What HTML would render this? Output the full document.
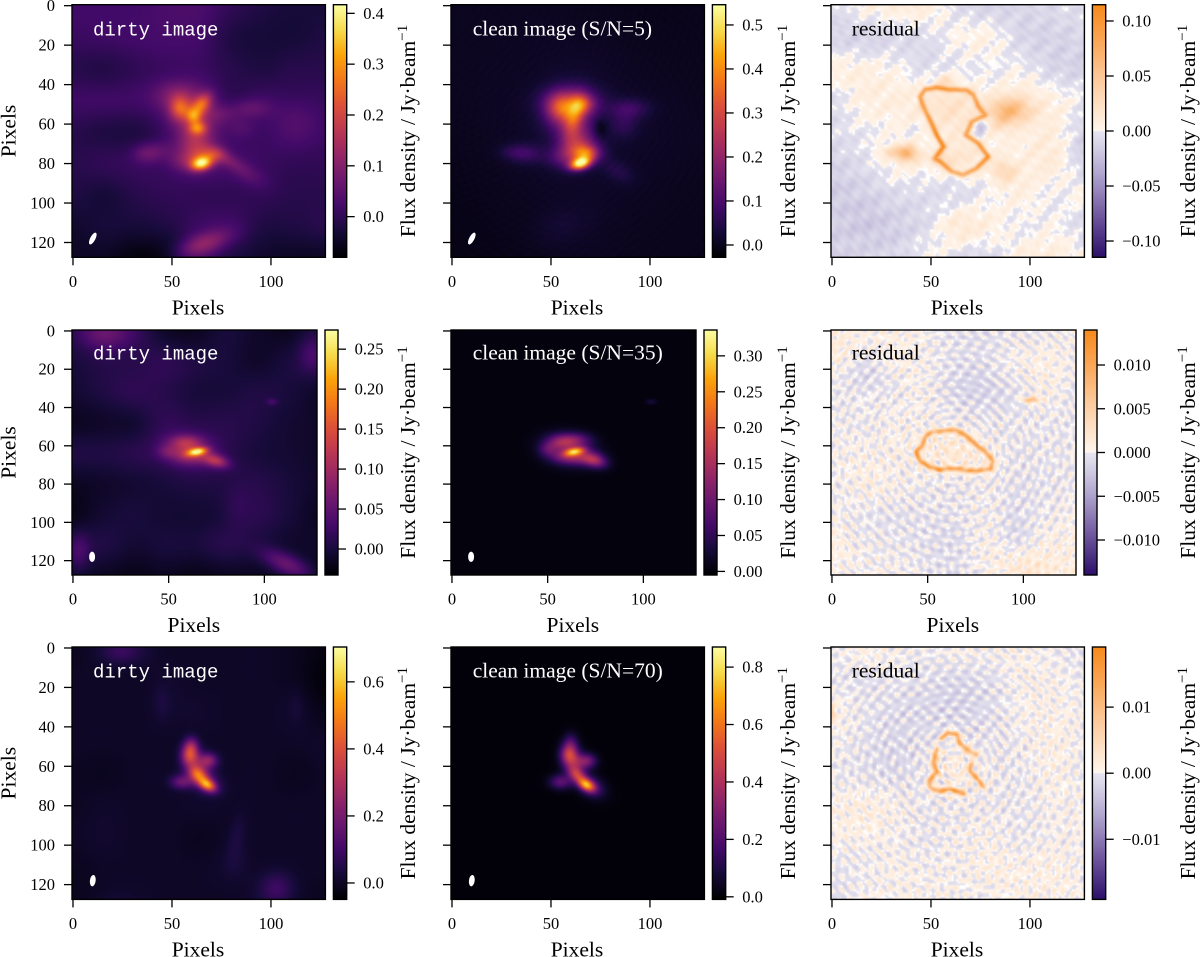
<!DOCTYPE html>
<html lang="en">
<head>
<meta charset="utf-8">
<title>Dirty image, clean image and residual at three signal-to-noise levels</title>
<style>
  html, body { margin: 0; padding: 0; background: #fff; }
  #figure { position: relative; width: 1200px; height: 957px; overflow: hidden; background: #fff; }
  #figure canvas { position: absolute; display: block; }
  #overlay { position: absolute; left: 0; top: 0; }
  #overlay text { font-family: "Liberation Serif", serif; fill: #000; }
</style>
</head>
<body>
<div id="figure">
  <svg id="overlay" width="1200" height="957" viewBox="0 0 1200 957"></svg>
</div>
<script>
/* Data notes: backgrounds, sources and rings are hand estimates.
   The *Fringes arrays are NOT traced: they approximate the fine ripple texture with
   concentric sine components whose spacing and strength were judged by eye, so
   individual ripples and white speckles do not correspond to the reference. */

/* ---------- axis tick values ---------- */
const xTickValues = [0, 50, 100];
const yTickValues = [0, 20, 40, 60, 80, 100, 120];

/* ---------- S/N = 5 dirty image (Jy/beam) ---------- */
const dirtyS5Domain = [-0.08, 0.417];
const dirtyS5Ticks = [0.0, 0.1, 0.2, 0.3, 0.4];
const dirtyS5Background = [
  0.02, 0.02, 0.02, 0.03, 0.03, 0.0, -0.02, -0.03, -0.03,
  0.01, 0.015, 0.02, 0.025, 0.02, -0.02, -0.03, -0.03, -0.02,
  -0.01, -0.015, 0.0, 0.01, 0.01, -0.01, -0.02, -0.01, -0.01,
  0.015, 0.015, 0.015, 0.02, 0.02, -0.005, 0.01, 0.0, 0.005,
  -0.01, -0.02, -0.02, 0.0, 0.03, 0.01, 0.01, 0.02, 0.01,
  -0.01, 0.0, 0.005, 0.01, 0.03, 0.02, 0.01, 0.0, 0.0,
  -0.02, -0.03, -0.01, 0.0, 0.0, 0.0, 0.0, -0.01, -0.01,
  -0.04, -0.03, -0.03, -0.02, 0.01, 0.01, -0.02, -0.02, -0.01,
  -0.05, -0.05, -0.07, -0.06, 0.0, -0.02, -0.04, -0.05, -0.05
];
const dirtyS5Sources = [
  [65, 80, 3.6, 2.3, -15, 0.31], [63, 62, 3, 2.3, 0, 0.16], [61, 56, 2.6, 2.6, 0, 0.14],
  [65, 50, 4.5, 2.8, -50, 0.17], [54, 52, 3.6, 4.2, 0, 0.15], [52, 45, 8, 5, 0, 0.06],
  [60, 55, 9, 9, 0, 0.085], [62, 70, 6, 7, 0, 0.1], [68, 76, 6, 3.5, 0, 0.09],
  [72, 75, 3.5, 2.5, 0, 0.05], [57, 79, 6, 3.5, 0, 0.06], [37, 75, 5, 3.5, 0, 0.06],
  [45, 73, 6, 3.5, 0, 0.035], [90, 52, 7, 3.5, 0, 0.05], [85, 62, 5, 3.5, 0, 0.03],
  [75, 55, 7, 3.5, 0, 0.04], [113, 57, 8, 8, 0, 0.025], [88, 85, 7, 3.5, 30, 0.04],
  [78, 78, 6, 2.5, 30, 0.05], [66, 121, 10, 4, -20, 0.11]
];

/* ---------- S/N = 5 clean image ---------- */
const cleanS5Domain = [-0.028, 0.546];
const cleanS5Ticks = [0.0, 0.1, 0.2, 0.3, 0.4, 0.5];
const cleanS5Background = [
  0.002, 0.004, 0.002, -0.004, -0.002,
  0.004, 0.006, 0.012, 0.004, 0.0,
  0.0, 0.008, 0.015, 0.01, 0.004,
  -0.006, 0.002, 0.01, 0.004, 0.0,
  -0.008, -0.004, 0.004, 0.0, -0.002
];
const cleanS5Sources = [
  [65, 80, 3.6, 2, -15, 0.46], [68, 75, 4, 2.5, 0, 0.16], [62, 56, 3.2, 7, 15, 0.17],
  [66, 50, 4, 3.2, 0, 0.14], [55, 52, 5, 5, 0, 0.18], [60, 48, 10, 5, 0, 0.1],
  [60, 55, 9, 9, 0, 0.135], [63, 70, 6, 6, 0, 0.17], [68, 74, 6, 4, 0, 0.1],
  [58, 77, 7, 4, 0, 0.1], [37, 75, 6, 3.5, 0, 0.07], [30, 74, 5, 2.5, 0, 0.03],
  [90, 52, 7, 3.5, 0, 0.07], [87, 60, 5, 5, 0, 0.05], [84, 84, 6, 3.5, 30, 0.04],
  [75, 62, 2.5, 3.5, 0, -0.05], [55, 112, 10, 6, -20, 0.018]
];
const cleanS5Fringes = [[-40, -30, 3.4, 0.0025, 0], [66, 66, 4.1, 0.0015, 1]];

/* ---------- S/N = 5 residual ---------- */
const residualS5Domain = [-0.1148, 0.1148];
const residualS5Ticks = [-0.10, -0.05, 0.00, 0.05, 0.10];
const residualS5Background = [
  -0.006, 0.004, 0.008, 0.008, -0.006, -0.012, -0.01, -0.008, -0.004,
  -0.01, -0.012, -0.008, -0.006, 0.002, 0.004, -0.01, -0.012, -0.01,
  0.005, 0.006, 0.002, -0.006, -0.003, -0.002, 0.0, -0.01, -0.012,
  -0.006, 0.006, 0.008, 0.006, 0.006, 0.006, 0.01, 0.006, -0.002,
  -0.006, -0.002, 0.002, 0.002, 0.004, 0.004, 0.006, 0.008, -0.012,
  -0.012, -0.006, 0.004, 0.002, 0.004, 0.004, 0.006, 0.01, -0.012,
  -0.016, -0.014, -0.008, -0.006, -0.006, 0.0, 0.006, -0.002, 0.004,
  -0.014, -0.018, -0.014, -0.006, 0.012, 0.006, -0.002, 0.002, -0.008,
  -0.014, -0.01, -0.01, 0.002, -0.006, -0.008, 0.008, 0.008, 0.004
];
const residualS5Sources = [
  [90, 53, 7, 4.5, 0, 0.055], [86, 59, 4, 4, 0, 0.015], [38, 75, 4, 3, 0, 0.06],
  [30, 74, 5, 2, 0, 0.02], [87, 84, 5, 4, 20, 0.025], [57, 38, 3, 2.5, 0, 0.025],
  [55, 78, 4, 3, 0, 0.02], [60, 53, 10, 9, 0, 0.014], [65, 76, 8, 6, 0, 0.01],
  [75, 62, 2, 3, 0, -0.03], [42, 63, 3, 2, 0, -0.006]
];
const residualS5Rings = [[
  [44.6, 46, 0.085], [47, 42.4, 0.09], [52.8, 41.4, 0.09], [59, 42.4, 0.085], [68, 42.7, 0.08],
  [71.5, 45, 0.075], [74, 51, 0.08], [77.5, 55.4, 0.075], [70.7, 58.8, 0.075], [67.7, 65.5, 0.08],
  [74, 69.8, 0.085], [79, 76.5, 0.1], [73, 82.4, 0.085], [66.5, 85.8, 0.075], [60.6, 84, 0.075],
  [54.7, 79, 0.085], [52, 77.4, 0.075], [56.4, 71.5, 0.1], [53, 65.5, 0.11], [48.8, 56.3, 0.085],
  [45.5, 49.5, 0.08], [44.6, 46, 0.085]
]];
const residualS5Fringes = [
  [-60, 170, 3.4, 0.0016, 0], [-40, -50, 11, 0.003, 1], [190, 160, 7.3, 0.0028, 2.2], [150, -60, 5.3, 0.002, 0.4]
];

/* ---------- S/N = 35 dirty image ---------- */
const dirtyS35Domain = [-0.0325, 0.274];
const dirtyS35Ticks = [0.00, 0.05, 0.10, 0.15, 0.20, 0.25];
const dirtyS35Background = [
  0.01, 0.03, 0.02, -0.01, -0.015, 0.0, -0.01, -0.015, 0.0,
  0.0, 0.01, 0.01, 0.015, 0.005, 0.0, -0.01, 0.0, 0.005,
  -0.005, 0.005, 0.015, 0.01, 0.0, 0.0, 0.005, 0.0, -0.01,
  -0.015, -0.01, -0.005, 0.015, 0.01, 0.01, 0.005, -0.005, -0.01,
  0.005, 0.005, 0.01, 0.01, 0.02, 0.01, 0.0, -0.005, -0.01,
  -0.015, -0.01, -0.005, 0.0, 0.005, 0.005, 0.01, 0.0, -0.01,
  -0.02, -0.005, 0.0, -0.005, -0.005, 0.0, 0.012, 0.0, -0.015,
  0.0, 0.005, -0.005, 0.0, 0.0, 0.01, 0.0, -0.01, -0.01,
  -0.01, -0.015, -0.02, -0.015, -0.02, -0.015, -0.015, -0.015, -0.02
];
const dirtyS35Sources = [
  [65, 63, 3.4, 1.3, -10, 0.18], [60, 65, 6, 3, 0, 0.05], [59, 58, 6, 2.6, 0, 0.06],
  [75, 68, 4.5, 2.2, 15, 0.08], [58, 62, 10, 6, 0, 0.04], [68, 65, 8, 3.5, 20, 0.035],
  [49, 63, 3.5, 2.5, 0, 0.03], [104, 37, 2, 1.2, 0, 0.03], [112, 122, 10, 4, 25, 0.07],
  [85, 92, 5, 8, 0, 0.012], [3, 115, 4, 7, 0, 0.035], [125, 12, 5, 7, 0, 0.03],
  [16, 2, 9, 5, 0, 0.03]
];

/* ---------- S/N = 35 clean image ---------- */
const cleanS35Domain = [-0.005, 0.336];
const cleanS35Ticks = [0.00, 0.05, 0.10, 0.15, 0.20, 0.25, 0.30];
const cleanS35Background = [0.001, 0.001, 0.001, 0.001, 0.001, 0.001, 0.001, 0.001, 0.001];
const cleanS35Sources = [
  [64, 63, 3.6, 1.4, -10, 0.2], [60, 66, 6, 2.5, 0, 0.07], [57, 58, 5.5, 2.8, 0, 0.08],
  [65, 57, 6, 2.8, 0, 0.07], [75, 68, 4.5, 2.5, 15, 0.1], [70, 66, 6, 3, 0, 0.07],
  [50, 62, 3.5, 2.5, 0, 0.05], [60, 62, 9, 5.5, 10, 0.06], [104, 37, 2, 1, 0, 0.03]
];

/* ---------- S/N = 35 residual ---------- */
const residualS35Domain = [-0.014, 0.014];
const residualS35Ticks = [-0.010, -0.005, 0.000, 0.005, 0.010];
const residualS35Background = [
  0.0008, 0.0002, 0.0006, 0.0001, -0.0006, -0.0007, -0.0004, -0.0003, 0.0002,
  0.0005, -0.0008, 0.0005, 0.0002, -0.0005, -0.0006, 0.0002, 0.0006, -0.0001,
  -0.0003, -0.0002, -0.0001, 0.0004, -0.0005, -0.0008, -0.0005, 0.0004, -0.0005,
  0.0, -0.0002, 0.0002, 0.0001, 0.0, -0.0003, -0.0003, -0.0003, -0.0004,
  0.0002, 0.0003, 0.0003, 0.0003, 0.0005, 0.0002, -0.0005, -0.0003, -0.0003,
  -0.0003, 0.0003, -0.0001, -0.0001, -0.0002, 0.0, -0.0004, -0.0005, -0.0002,
  0.0003, -0.0005, -0.0007, -0.0004, 0.0, 0.0003, -0.0004, -0.0002, 0.0002,
  0.0007, 0.0, -0.0002, -0.0005, -0.0005, 0.0003, -0.0006, 0.0005, 0.0007,
  0.0004, 0.0001, 0.0002, -0.0003, -0.0006, 0.0001, 0.0008, 0.0009, 0.0008
];
const residualS35Sources = [
  [104, 36, 3, 1, 0, 0.008], [64, 63, 13, 6, 10, 0.0012], [10, 10, 8, 6, 0, 0.0008],
  [100, 122, 12, 7, 30, 0.0012], [70, 30, 15, 10, 0, -0.0006], [20, 25, 8, 6, 0, -0.0006],
  [65, 100, 12, 12, 0, -0.0005], [95, 100, 6, 15, 0, -0.0005], [25, 85, 10, 8, 0, 0.0005]
];
const residualS35Rings = [[
  [49, 55, 0.009], [52, 53, 0.009], [58, 52, 0.008], [65, 52, 0.01], [70, 54.5, 0.011],
  [75, 59, 0.01], [80, 63, 0.009], [84, 68, 0.01], [83, 72, 0.01], [76, 73, 0.009],
  [71, 73, 0.011], [67, 72, 0.009], [61, 72, 0.01], [56, 72.5, 0.011], [51, 71, 0.011],
  [46, 68, 0.011], [44, 63, 0.011], [47, 60, 0.01], [49, 55, 0.009]
]];
const residualS35Fringes = [
  [64, 63, 3.8, 0.0006, 0], [-40, 150, 4.4, 0.0005, 1.1], [180, 130, 4.9, 0.0005, 2.4],
  [150, -50, 5.5, 0.0005, 0.5], [-30, -40, 6.5, 0.0005, 3]
];
const residualS35Core = [64, 63, 26, 1.3];

/* ---------- S/N = 70 dirty image ---------- */
const dirtyS70Domain = [-0.049, 0.704];
const dirtyS70Ticks = [0.0, 0.2, 0.4, 0.6];
const dirtyS70Background = [
  -0.01, 0.01, 0.02, 0.0, 0.0, 0.0, 0.0, -0.01, -0.03,
  0.0, 0.0, 0.0, 0.01, 0.0, 0.0, 0.0, -0.01, -0.04,
  0.0, 0.0, 0.0, 0.01, 0.01, 0.0, 0.0, 0.005, -0.02,
  0.0, 0.0, 0.0, 0.0, 0.0, 0.0, 0.0, 0.0, 0.005,
  -0.005, -0.01, 0.0, 0.0, 0.0, 0.0, 0.0, -0.01, 0.0,
  -0.005, 0.005, 0.0, 0.0, 0.005, 0.0, 0.0, 0.0, 0.0,
  0.0, 0.01, 0.0, 0.0, -0.01, 0.0, 0.0, 0.0, 0.0,
  -0.01, 0.0, 0.0, 0.0, 0.0, 0.01, 0.0, 0.0, 0.0,
  -0.01, 0.0, 0.005, 0.0, 0.0, 0.0, 0.01, 0.0, -0.01
];
const dirtyS70Sources = [
  [68, 69.5, 3.2, 2, 30, 0.42], [63, 64, 3.5, 2.6, 35, 0.32], [59, 54, 3, 4, 5, 0.36],
  [60, 49, 2.5, 3, 0, 0.12], [65, 58, 4.5, 3.5, 0, 0.15], [69, 57, 3, 2.5, 0, 0.15],
  [55, 68, 4, 2.5, 0, 0.17], [66, 67, 6, 4, 30, 0.16], [24, 2, 7, 4, 0, 0.07],
  [103, 122, 6, 6, 0, 0.09], [83, 95, 3, 8, 10, 0.035], [82, 108, 4, 6, 0, 0.02],
  [45, 28, 3, 6, 0, 0.03], [113, 30, 3, 7, 0, 0.02], [22, 127, 6, 3, 0, 0.015]
];

/* ---------- S/N = 70 clean image ---------- */
const cleanS70Domain = [-0.009, 0.87];
const cleanS70Ticks = [0.0, 0.2, 0.4, 0.6, 0.8];
const cleanS70Background = [0, 0, 0, 0, 0, 0, 0, 0, 0];
const cleanS70Sources = [
  [68, 69.5, 3.2, 2, 30, 0.55], [63, 64, 3.4, 2.4, 35, 0.36], [59, 54, 3, 3.5, 0, 0.28],
  [60, 48, 2.5, 3.5, 0, 0.12], [65, 58, 4.5, 3, 0, 0.22], [69, 57, 3, 2.5, 0, 0.14],
  [55, 68, 4, 2.6, 0, 0.22], [70, 70, 5.5, 3.6, 30, 0.2], [60, 55, 3.5, 5.5, 0, 0.17]
];

/* ---------- S/N = 70 residual ---------- */
const residualS70Domain = [-0.0191, 0.0191];
const residualS70Ticks = [-0.01, 0.00, 0.01];
const residualS70Background = [
  -0.0003, 0.0008, 0.0003, -0.0002, 0.0005, 0.0003, 0.0005, -0.0003, -0.0008,
  -0.0005, -0.0008, -0.0003, -0.0005, -0.0008, -0.0005, 0.0004, 0.0002, -0.0004,
  0.0006, -0.0003, -0.0008, -0.0008, -0.001, -0.0006, 0.0003, 0.0003, 0.0001,
  0.0002, -0.0003, -0.0008, -0.0005, -0.0006, -0.0006, -0.0003, 0.0005, -0.0003,
  -0.0003, -0.0005, -0.0008, -0.0002, 0.0002, -0.0001, -0.0006, 0.0002, -0.0003,
  0.0005, 0.0008, 0.0003, -0.0004, -0.0003, -0.0002, -0.0006, -0.0001, 0.0003,
  0.0004, 0.0002, -0.0002, -0.0004, 0.0002, 0.0003, -0.0006, -0.0002, 0.0002,
  -0.0005, -0.0002, 0.0004, 0.0001, 0.0002, 0.0006, -0.0004, 0.0006, 0.0001,
  -0.0007, 0.0002, 0.0003, 0.0005, 0.0002, -0.0003, 0.0006, 0.0008, 0.0002
];
const residualS70Sources = [
  [0, 33, 1.2, 3, 0, 0.006], [62, 60, 8, 10, 0, 0.0012], [62, 25, 18, 12, 0, -0.0009],
  [30, 50, 14, 14, 0, -0.0007], [95, 112, 12, 8, -30, 0.001], [18, 88, 12, 8, 30, 0.0005],
  [110, 60, 10, 25, 0, 0.0005]
];
const residualS70Rings = [
  [[55.5, 45.9, 0.011], [58.8, 43, 0.015], [63, 43.8, 0.015], [64.7, 48.4, 0.014], [69.8, 52.6, 0.014], [73, 54.3, 0.01]],
  [[70.6, 59.4, 0.013], [69.8, 62.7, 0.011], [73, 66, 0.013], [76.5, 70.3, 0.013]],
  [[66.4, 74, 0.015], [59.7, 71.7, 0.015], [54.6, 72.8, 0.014], [49.6, 71, 0.011], [49.6, 67, 0.015],
   [53, 62.7, 0.015], [51.3, 57.7, 0.015], [53, 51.8, 0.015]]
];
const residualS70Fringes = [
  [62, 60, 3.8, 0.0007, 0], [-40, 150, 4.4, 0.0007, 1.3], [180, 130, 4.9, 0.0007, 2.6],
  [150, -50, 5.5, 0.0006, 0.7], [-30, -40, 6.5, 0.0006, 4]
];
const residualS70Core = [62, 60, 24, 1.6];

/* ---------- clean beam of each row: centre x, centre y, semi-major, semi-minor, tilt deg ---------- */
const beamS5 = [10, 118, 3.3, 1.3, 28];
const beamS35 = [10, 118, 2.7, 1.55, 0];
const beamS70 = [10, 118, 2.9, 1.45, 7];

/* ---------- colour maps ---------- */
const infernoStops = [[0,0,3],[22,11,57],[66,10,104],[106,23,110],[147,37,103],[187,55,84],
                      [220,80,57],[243,119,25],[251,164,10],[245,219,75],[252,254,164]];
const residualPositiveStops = [[0,255,246,238],[0.1,254,235,217],[0.43,253,200,152],[0.7,250,168,90],[1,247,138,27]];
const residualNegativeStops = [[0,232,230,241],[0.08,220,217,234],[0.33,178,168,208],[0.66,115,90,160],[1,45,15,107]];

function inferno(t) {
  const p = Math.max(0, Math.min(1, t)) * (infernoStops.length - 1);
  const i = Math.min(infernoStops.length - 2, Math.floor(p));
  const f = p - i;
  const a = infernoStops[i], b = infernoStops[i + 1];
  return [a[0] + (b[0] - a[0]) * f, a[1] + (b[1] - a[1]) * f, a[2] + (b[2] - a[2]) * f];
}
function stopColor(stops, t) {
  for (let i = 1; i < stops.length; i++) {
    if (t <= stops[i][0]) {
      const a = stops[i - 1], b = stops[i];
      const f = (t - a[0]) / (b[0] - a[0]);
      return [a[1] + (b[1] - a[1]) * f, a[2] + (b[2] - a[2]) * f, a[3] + (b[3] - a[3]) * f];
    }
  }
  const l = stops[stops.length - 1];
  return [l[1], l[2], l[3]];
}
function residualColor(t, speckle) {
  if (speckle && Math.abs(t) < 0.008) return [255, 255, 255];
  const c = Math.max(-1, Math.min(1, t));
  return c >= 0 ? stopColor(residualPositiveStops, c) : stopColor(residualNegativeStops, -c);
}

/* ---------- field model: evaluates one panel's arrays at image pixel (x, y) ---------- */
function cubic(p0, p1, p2, p3, f) {
  return p1 + 0.5 * f * (p2 - p0 + f * (2 * p0 - 5 * p1 + 4 * p2 - p3 + f * (3 * (p1 - p2) + p3 - p0)));
}
function sampleGrid(grid, x, y) {
  const n = Math.round(Math.sqrt(grid.length));
  const step = 128 / (n - 1);
  const at = (r, c) => grid[Math.max(0, Math.min(n - 1, r)) * n + Math.max(0, Math.min(n - 1, c))];
  const gx = x / step, gy = y / step;
  const c = Math.min(n - 2, Math.floor(gx)), r = Math.min(n - 2, Math.floor(gy));
  const fx = gx - c, fy = gy - r;
  const row = [];
  for (let k = -1; k <= 2; k++) {
    row.push(cubic(at(r + k, c - 1), at(r + k, c), at(r + k, c + 1), at(r + k, c + 2), fx));
  }
  return cubic(row[0], row[1], row[2], row[3], fy);
}
function fieldValue(panel, x, y) {
  let v = sampleGrid(panel.background, x, y);
  for (const s of panel.sources) {
    const a = s[4] * Math.PI / 180;
    const dx = x - s[0], dy = y - s[1];
    const u = dx * Math.cos(a) + dy * Math.sin(a);
    const w = -dx * Math.sin(a) + dy * Math.cos(a);
    v += s[5] * Math.exp(-0.5 * (u * u / (s[2] * s[2]) + w * w / (s[3] * s[3])));
  }
  for (const ring of panel.rings) {
    let best = 1e9, amp = 0;
    for (let i = 0; i < ring.length - 1; i++) {
      const a = ring[i], b = ring[i + 1];
      const ex = b[0] - a[0], ey = b[1] - a[1];
      const f = Math.max(0, Math.min(1, ((x - a[0]) * ex + (y - a[1]) * ey) / (ex * ex + ey * ey)));
      const px = a[0] + ex * f - x, py = a[1] + ey * f - y;
      const d = px * px + py * py;
      if (d < best) { best = d; amp = a[2] + (b[2] - a[2]) * f; }
    }
    v += amp * Math.exp(-best / (2 * 0.9 * 0.9));
  }
  let fringe = 0;
  for (const w of panel.fringes) {
    const r = Math.hypot(x - w[0], y - w[1]);
    fringe += w[3] * Math.sin(2 * Math.PI * r / w[2] + w[4]);
  }
  if (panel.core) {
    const c = panel.core;
    const d2 = (x - c[0]) * (x - c[0]) + (y - c[1]) * (y - c[1]);
    fringe *= 1 + (c[3] - 1) * Math.exp(-d2 / (2 * c[2] * c[2]));
  }
  return v + fringe;
}

/* ---------- layout (separate from data) ---------- */
const columnLefts = [72, 451, 831];
const columnLabelX = [415, 795, 1195];
const titleInset = [21, 21.7, 20.7];
const rowLayouts = [
  { top: 4.7, height: 252.6, width: 253.4, cbarW: 13.3, titleDrop: 31 },
  { top: 330, height: 245, width: 245, cbarW: 13, titleDrop: 29.5 },
  { top: 647, height: 252.4, width: 253.4, cbarW: 13.3, titleDrop: 30.7 }
];

const panels = [
  { key: 'dirty-sn5', row: 0, col: 0, kind: 'dirty', title: 'dirty image', domain: dirtyS5Domain, ticks: dirtyS5Ticks, decimals: 1, background: dirtyS5Background, sources: dirtyS5Sources, rings: [], fringes: [], beam: beamS5 },
  { key: 'clean-sn5', row: 0, col: 1, kind: 'clean', title: 'clean image (S/N=5)', domain: cleanS5Domain, ticks: cleanS5Ticks, decimals: 1, background: cleanS5Background, sources: cleanS5Sources, rings: [], fringes: cleanS5Fringes, beam: beamS5 },
  { key: 'residual-sn5', row: 0, col: 2, kind: 'residual', title: 'residual', domain: residualS5Domain, ticks: residualS5Ticks, decimals: 2, background: residualS5Background, sources: residualS5Sources, rings: residualS5Rings, fringes: residualS5Fringes },
  { key: 'dirty-sn35', row: 1, col: 0, kind: 'dirty', title: 'dirty image', domain: dirtyS35Domain, ticks: dirtyS35Ticks, decimals: 2, background: dirtyS35Background, sources: dirtyS35Sources, rings: [], fringes: [], beam: beamS35 },
  { key: 'clean-sn35', row: 1, col: 1, kind: 'clean', title: 'clean image (S/N=35)', domain: cleanS35Domain, ticks: cleanS35Ticks, decimals: 2, background: cleanS35Background, sources: cleanS35Sources, rings: [], fringes: [], beam: beamS35 },
  { key: 'residual-sn35', row: 1, col: 2, kind: 'residual', title: 'residual', domain: residualS35Domain, ticks: residualS35Ticks, decimals: 3, background: residualS35Background, sources: residualS35Sources, rings: residualS35Rings, fringes: residualS35Fringes, core: residualS35Core },
  { key: 'dirty-sn70', row: 2, col: 0, kind: 'dirty', title: 'dirty image', domain: dirtyS70Domain, ticks: dirtyS70Ticks, decimals: 1, background: dirtyS70Background, sources: dirtyS70Sources, rings: [], fringes: [], beam: beamS70 },
  { key: 'clean-sn70', row: 2, col: 1, kind: 'clean', title: 'clean image (S/N=70)', domain: cleanS70Domain, ticks: cleanS70Ticks, decimals: 1, background: cleanS70Background, sources: cleanS70Sources, rings: [], fringes: [], beam: beamS70 },
  { key: 'residual-sn70', row: 2, col: 2, kind: 'residual', title: 'residual', domain: residualS70Domain, ticks: residualS70Ticks, decimals: 2, background: residualS70Background, sources: residualS70Sources, rings: residualS70Rings, fringes: residualS70Fringes, core: residualS70Core }
];

/* ---------- drawing ---------- */
const figure = document.getElementById('figure');
const overlay = document.getElementById('overlay');
const SVG_NS = 'http://www.w3.org/2000/svg';

function svgEl(parent, tag, name, attrs, text) {
  const el = document.createElementNS(SVG_NS, tag);
  
  
  for (const k in attrs) el.setAttribute(k, attrs[k]);
  if (text !== undefined) el.textContent = text;
  parent.appendChild(el);
  return el;
}
function addCanvas(name, w, h, left, top, cssW, cssH) {
  const c = document.createElement('canvas');
  
  
  c.width = w;
  c.height = h;
  c.style.left = left + 'px';
  c.style.top = top + 'px';
  c.style.width = cssW + 'px';
  c.style.height = cssH + 'px';
  figure.insertBefore(c, overlay);
  return c;
}
function tickText(v, decimals) {
  const s = Math.abs(v).toFixed(decimals);
  return (v < 0 ? '\u2212' : '') + s;
}

for (const panel of panels) {
  const layout = rowLayouts[panel.row];
  const left = columnLefts[panel.col];
  const top = layout.top;
  const W = layout.width, H = layout.height;
  const bottom = top + H, right = left + W;
  const xScale = v => left + (v + 0.5) * W / 128;
  const yScale = v => top + (v + 0.5) * H / 128;
  const dMin = panel.domain[0], dMax = panel.domain[1];
  const isResidual = panel.kind === 'residual';
  const colorOf = v => isResidual ? residualColor(v / dMax, true) : inferno((v - dMin) / (dMax - dMin));

  /* heatmap image */
  const canvas = addCanvas(panel.key + '-heatmap', 128, 128, left, top, W, H);
  const ctx = canvas.getContext('2d');
  const img = ctx.createImageData(128, 128);
  for (let y = 0; y < 128; y++) {
    for (let x = 0; x < 128; x++) {
      const col = colorOf(fieldValue(panel, x, y));
      const o = (y * 128 + x) * 4;
      img.data[o] = col[0];
      img.data[o + 1] = col[1];
      img.data[o + 2] = col[2];
      img.data[o + 3] = 255;
    }
  }
  ctx.putImageData(img, 0, 0);

  /* colour bar */
  const cbLeft = right + 8;
  const cbW = layout.cbarW;
  const cbCanvas = addCanvas(panel.key + '-colorbar-gradient', 1, 512, cbLeft, top, cbW, H);
  const cbCtx = cbCanvas.getContext('2d');
  const cbImg = cbCtx.createImageData(1, 512);
  for (let j = 0; j < 512; j++) {
    const v = dMax - (j + 0.5) / 512 * (dMax - dMin);
    const col = isResidual ? residualColor(v / dMax, false) : inferno((v - dMin) / (dMax - dMin));
    cbImg.data[j * 4] = col[0];
    cbImg.data[j * 4 + 1] = col[1];
    cbImg.data[j * 4 + 2] = col[2];
    cbImg.data[j * 4 + 3] = 255;
  }
  cbCtx.putImageData(cbImg, 0, 0);

  const group = svgEl(overlay, 'g', panel.key + '-panel', {});

  /* beam ellipse */
  if (panel.beam) {
    const b = panel.beam;
    svgEl(group, 'ellipse', panel.key + '-beam', {
      cx: xScale(b[0]), cy: yScale(b[1]),
      rx: b[3] * W / 128, ry: b[2] * H / 128,
      fill: '#fff',
      transform: 'rotate(' + b[4] + ' ' + xScale(b[0]) + ' ' + yScale(b[1]) + ')'
    });
  }

  /* title */
  const mono = panel.kind === 'dirty';
  svgEl(group, 'text', panel.key + '-title', {
    x: left + titleInset[panel.col],
    y: top + layout.titleDrop,
    'font-size': mono ? 19 : 21.5,
    style: 'fill:' + (isResidual ? '#000' : '#fff') + (mono ? ';font-family:"Liberation Mono",monospace' : '')
  }, panel.title);

  /* frame */
  svgEl(group, 'rect', panel.key + '-frame', { x: left, y: top, width: W, height: H, fill: 'none', stroke: '#000', 'stroke-width': 1.4 });

  /* x axis */
  for (const t of xTickValues) {
    svgEl(group, 'line', panel.key + '-x-tick', { x1: xScale(t), x2: xScale(t), y1: bottom, y2: bottom + 8, stroke: '#000', 'stroke-width': 1.3 });
    svgEl(group, 'text', panel.key + '-x-tick-label', { x: xScale(t), y: bottom + 29.5, 'text-anchor': 'middle', 'font-size': 16.5 }, String(t));
  }
  svgEl(group, 'text', panel.key + '-x-axis-title', { x: left + W / 2 - 0.7, y: bottom + 57, 'text-anchor': 'middle', 'font-size': 21.5 }, 'Pixels');

  /* y axis */
  for (const t of yTickValues) {
    svgEl(group, 'line', panel.key + '-y-tick', { x1: left - 8, x2: left, y1: yScale(t), y2: yScale(t), stroke: '#000', 'stroke-width': 1.3 });
    if (panel.col === 0) {
      svgEl(group, 'text', panel.key + '-y-tick-label', { x: 55, y: yScale(t) + 5.5, 'text-anchor': 'end', 'font-size': 16.5 }, String(t));
    }
  }
  if (panel.col === 0) {
    const cy = top + H / 2;
    svgEl(group, 'text', panel.key + '-y-axis-title', { x: 15.5, y: cy, 'text-anchor': 'middle', 'font-size': 21.5, transform: 'rotate(-90 15.5 ' + cy + ')' }, 'Pixels');
  }

  /* colour bar frame, ticks and label */
  const cbScale = v => top + (dMax - v) / (dMax - dMin) * H;
  svgEl(group, 'rect', panel.key + '-colorbar-frame', { x: cbLeft, y: top, width: cbW, height: H, fill: 'none', stroke: '#000', 'stroke-width': 1.4 });
  for (const t of panel.ticks) {
    svgEl(group, 'line', panel.key + '-colorbar-tick', { x1: cbLeft + cbW, x2: cbLeft + cbW + 8, y1: cbScale(t), y2: cbScale(t), stroke: '#000', 'stroke-width': 1.3 });
    svgEl(group, 'text', panel.key + '-colorbar-tick-label', { x: cbLeft + cbW + 16.6, y: cbScale(t) + 5.5, 'font-size': 16.5 }, tickText(t, panel.decimals));
  }
  const lx = columnLabelX[panel.col];
  const ly = top + H / 2;
  const label = svgEl(group, 'text', panel.key + '-colorbar-label', { x: lx, y: ly, 'text-anchor': 'middle', 'font-size': 21.5, transform: 'rotate(-90 ' + lx + ' ' + ly + ')' });
  label.appendChild(document.createTextNode('Flux density / Jy\u00B7beam'));
  const sup = document.createElementNS(SVG_NS, 'tspan');
  
  
  sup.setAttribute('dy', '-8');
  sup.setAttribute('font-size', '15');
  sup.textContent = '\u22121';
  label.appendChild(sup);
}
</script>
</body>
</html>
